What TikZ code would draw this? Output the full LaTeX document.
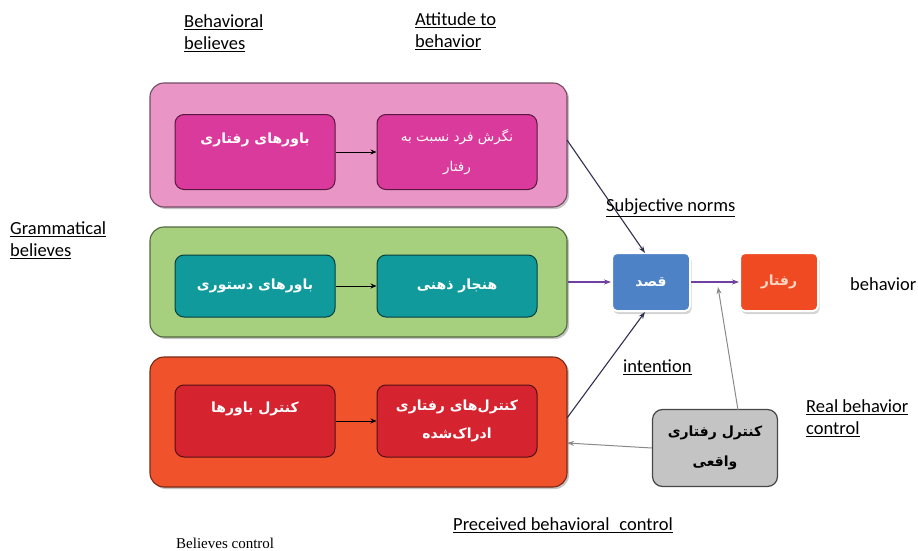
\documentclass[tikz,border=0pt]{standalone}
\usepackage{fontspec}
\setmainfont{Carlito}
\newfontfamily\arabicfont[Script=Arabic]{DejaVu Sans}
\newfontfamily\timesfont{Liberation Serif}
\TeXXeTstate=1
\usetikzlibrary{shadows,arrows.meta}
\definecolor{pinkouter}{HTML}{E996C6}
\definecolor{pinkinner}{HTML}{D93A9C}
\definecolor{greenouter}{HTML}{A6D07E}
\definecolor{tealinner}{HTML}{109A9C}
\definecolor{redouter}{HTML}{F0522C}
\definecolor{redinner}{HTML}{D52430}
\definecolor{bluebox}{HTML}{4D82C6}
\definecolor{orangebox}{HTML}{F04A22}
\definecolor{graybox}{HTML}{C4C4C4}
\definecolor{arrpurple}{HTML}{7040A0}
\definecolor{arrdark}{HTML}{303050}
\definecolor{arrgray}{HTML}{8A8A8A}
\tikzset{
  outerbox/.style={draw=#1!50!black, line width=1.1pt, rounded corners=14pt, fill=#1,
     drop shadow={shadow xshift=2pt, shadow yshift=-2pt, opacity=0.45}},
  innerbox/.style={draw=#1!40!black, line width=1pt, rounded corners=9pt, fill=#1,
     text=white, align=center, font=\arabicfont\bfseries\fontsize{14}{28}\selectfont},
  centerbox/.style={draw=white, line width=2pt, rounded corners=5pt, fill=#1,
     drop shadow={shadow xshift=1.5pt, shadow yshift=-3pt, opacity=0.35},
     text=white, align=center, font=\arabicfont\bfseries\fontsize{14}{28}\selectfont},
  lbl/.style={inner sep=0pt, align=left, font=\fontsize{18.5}{22}\selectfont},
  arr/.style={-{Stealth[length=7pt,width=5pt]}, line width=1.1pt},
  inarr/.style={-{Stealth[length=6pt,width=5pt]}, line width=0.9pt},
}
\begin{document}
\begin{tikzpicture}[x=1pt,y=-1pt]
\useasboundingbox (0,0) rectangle (918,551);
% outer boxes
\node[outerbox=pinkouter, minimum width=417pt, minimum height=124pt] (po) at (358.5,145) {};
\node[outerbox=greenouter, minimum width=417pt, minimum height=110pt] (go) at (358.5,282) {};
\node[outerbox=redouter, minimum width=417pt, minimum height=130pt] (ro) at (358.5,422) {};
% inner boxes
\node[innerbox=pinkinner, minimum width=160pt, minimum height=75pt] (p1) at (255,152) {};
\node[innerbox=pinkinner, minimum width=160pt, minimum height=75pt] (p2) at (457,152) {};
\node[text=white, font=\arabicfont\bfseries\fontsize{14}{20}\selectfont] (p1t) at (255,140) {\beginR باورهای رفتاری\endR};
\node[text=white, align=center, font=\arabicfont\fontsize{13.5}{30}\selectfont] (p2t) at (457,152) {\beginR نگرش فرد نسبت به\endR\\\beginR رفتار\endR};
\node[innerbox=tealinner, minimum width=160pt, minimum height=62pt] (g1) at (255,286) {\beginR باورهای دستوری\endR};
\node[innerbox=tealinner, minimum width=160pt, minimum height=62pt] (g2) at (457,286) {\beginR هنجار ذهنی\endR};
\node[innerbox=redinner, minimum width=160pt, minimum height=72pt] (r1) at (255,421) {};
\node[text=white, font=\arabicfont\bfseries\fontsize{14}{20}\selectfont] (r1t) at (255,409) {\beginR کنترل باورها\endR};
\node[innerbox=redinner, minimum width=160pt, minimum height=72pt] (r2) at (457,421) {\beginR کنترل‌های رفتاری\endR\\\beginR ادراک‌شده\endR};
% inner arrows
\draw[inarr] (p1.east) -- (p2.west);
\draw[inarr] (g1.east) -- (g2.west);
\draw[inarr] (r1.east) -- (r2.west);
% centre boxes
\node[centerbox=bluebox, minimum width=78pt, minimum height=58pt] (q) at (651,282) {\beginR قصد\endR};
\node[centerbox=orangebox, minimum width=78pt, minimum height=58pt, text={rgb,255:red,255;green,214;blue,196}] (b) at (779,282) {\beginR رفتار\endR};
\node[draw={rgb,255:red,70;green,70;blue,70}, line width=1.2pt, rounded corners=10pt, fill=graybox,
      minimum width=125pt, minimum height=77pt, align=center,
      font=\arabicfont\bfseries\fontsize{14}{30}\selectfont] (g) at (715,448) {\beginR کنترل رفتاری\endR\\\beginR واقعی\endR};
% connectors
\coordinate (pe) at (567,140);
\coordinate (re) at (567,418);
\coordinate (ge) at (567,443);
\coordinate (mid) at (718,287);
\coordinate (qt) at (645,253);
\coordinate (qb) at (645,312);
\coordinate (gt) at (738,410);
\draw[arr, color=arrdark] (pe) -- (qt);
\draw[arr, color=arrpurple] (go.east) -- (q.west);
\draw[arr, color=arrdark] (re) -- (qb);
\draw[arr, color=arrpurple] (q.east) -- (b.west);
\draw[arr, color=arrgray, line width=1pt] (gt) -- (mid);
\draw[arr, color=arrgray, line width=1pt] (g.west) -- (ge);
% labels
\node[lbl, anchor=west] (l1) at (184,33) {\underline{Behavioral}\\\underline{believes}};
\node[lbl, anchor=west] (l2) at (415,31) {\underline{Attitude to}\\\underline{behavior}};
\node[lbl, anchor=west] (l3) at (10,240) {\underline{Grammatical}\\\underline{believes}};
\node[lbl, anchor=west] (l4) at (606,208) {\underline{Subjective norms}};
\node[lbl, anchor=west] (l5) at (850,284) {behavior};
\node[lbl, anchor=west] (l6) at (623,367) {\underline{intention}};
\node[lbl, anchor=west] (l7) at (806,418) {\underline{Real behavior}\\\underline{control}};
\node[lbl, anchor=west] (l8) at (453,525) {\underline{Preceived behavioral\hspace{10pt}control}};
\node[inner sep=0pt, anchor=west, font=\timesfont\fontsize{15}{20}\selectfont] (l9) at (176,543) {Believes control};
\end{tikzpicture}
\end{document}
